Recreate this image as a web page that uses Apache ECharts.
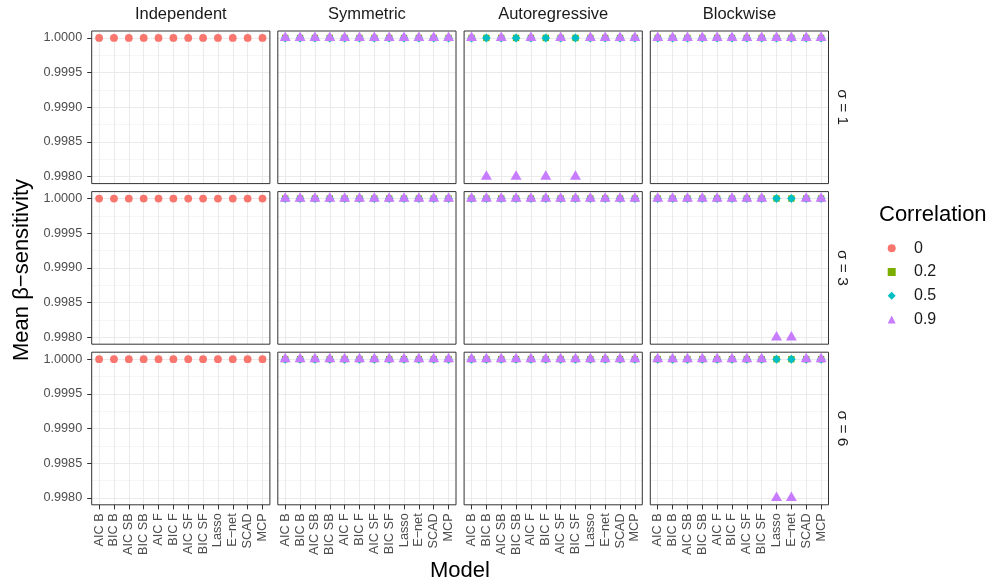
<!DOCTYPE html>
<html>
<head>
<meta charset="utf-8">
<script src="https://cdn.jsdelivr.net/npm/echarts@6/dist/echarts.min.js"></script>
<style>
html,body{margin:0;padding:0;background:#fff;}
#chart{width:992px;height:588px;}
</style>
</head>
<body>
<div id="chart"></div>
<script>
// ---------- data ----------
const models = ['AIC B','BIC B','AIC SB','BIC SB','AIC F','BIC F','AIC SF','BIC SF','Lasso','E\u2212net','SCAD','MCP'];
const structures = ['Independent','Symmetric','Autoregressive','Blockwise'];
const sigmaLabels = ['\u03c3 = 1','\u03c3 = 3','\u03c3 = 6'];
const correlations = ['0','0.2','0.5','0.9'];
const yTicks = [0.9980, 0.9985, 0.9990, 0.9995, 1.0000];

// rows: sigma = 1, 3, 6 ; columns: models
const independent_rho0 = [
  [1,1,1,1,1,1,1,1,1,1,1,1],
  [1,1,1,1,1,1,1,1,1,1,1,1],
  [1,1,1,1,1,1,1,1,1,1,1,1]
];
const symmetric_rho02 = [
  [1,1,1,1,1,1,1,1,1,1,1,1],
  [1,1,1,1,1,1,1,1,1,1,1,1],
  [1,1,1,1,1,1,1,1,1,1,1,1]
];
const symmetric_rho05 = [
  [1,1,1,1,1,1,1,1,1,1,1,1],
  [1,1,1,1,1,1,1,1,1,1,1,1],
  [1,1,1,1,1,1,1,1,1,1,1,1]
];
const symmetric_rho09 = [
  [1,1,1,1,1,1,1,1,1,1,1,1],
  [1,1,1,1,1,1,1,1,1,1,1,1],
  [1,1,1,1,1,1,1,1,1,1,1,1]
];
const autoreg_rho02 = [
  [1,1,1,1,1,1,1,1,1,1,1,1],
  [1,1,1,1,1,1,1,1,1,1,1,1],
  [1,1,1,1,1,1,1,1,1,1,1,1]
];
const autoreg_rho05 = [
  [1,1,1,1,1,1,1,1,1,1,1,1],
  [1,1,1,1,1,1,1,1,1,1,1,1],
  [1,1,1,1,1,1,1,1,1,1,1,1]
];
const autoreg_rho09 = [
  [1,0.998,1,0.998,1,0.998,1,0.998,1,1,1,1],
  [1,1,1,1,1,1,1,1,1,1,1,1],
  [1,1,1,1,1,1,1,1,1,1,1,1]
];
const block_rho02 = [
  [1,1,1,1,1,1,1,1,1,1,1,1],
  [1,1,1,1,1,1,1,1,1,1,1,1],
  [1,1,1,1,1,1,1,1,1,1,1,1]
];
const block_rho05 = [
  [1,1,1,1,1,1,1,1,1,1,1,1],
  [1,1,1,1,1,1,1,1,1,1,1,1],
  [1,1,1,1,1,1,1,1,1,1,1,1]
];
const block_rho09 = [
  [1,1,1,1,1,1,1,1,1,1,1,1],
  [1,1,1,1,1,1,1,1,0.998,0.998,1,1],
  [1,1,1,1,1,1,1,1,0.998,0.998,1,1]
];

// per column: list of [correlation label, data table]
const panelSeries = [
  [['0', independent_rho0]],
  [['0.2', symmetric_rho02], ['0.5', symmetric_rho05], ['0.9', symmetric_rho09]],
  [['0.2', autoreg_rho02], ['0.5', autoreg_rho05], ['0.9', autoreg_rho09]],
  [['0.2', block_rho02], ['0.5', block_rho05], ['0.9', block_rho09]]
];

// ---------- styles ----------
const FONT = 'Liberation Sans, Arial, Helvetica, sans-serif';
const styleByCorr = {
  '0':   {color:'#F8766D', symbol:'circle',   size:7.8,      offset:[0,0]},
  '0.2': {color:'#7CAE00', symbol:'rect',     size:6.4,      offset:[0,0]},
  '0.5': {color:'#00BFC4', symbol:'diamond',  size:[8.6,9],  offset:[0,0]},
  '0.9': {color:'#C77CFF', symbol:'triangle', size:[11,9.5], offset:[0,-1.6]}
};

const colLeft = [91.7, 277.8, 464.1, 650.3];
const rowTop = [31, 191.6, 352.2];
const panelW = 178.2, panelH = 152.6;

const grids = [], xAxes = [], yAxes = [], series = [], graphics = [];
let g = 0;
for (let r = 0; r < 3; r++) {
  for (let c = 0; c < 4; c++) {
    grids.push({
      left: colLeft[c], top: rowTop[r], width: panelW, height: panelH,
      show: true, borderColor: '#333333', borderWidth: 1,
      backgroundColor: 'transparent', z: 1
    });
    xAxes.push({
      gridIndex: g, type: 'category', data: models, boundaryGap: true, z: 0,
      axisLine: {show: false},
      axisTick: {show: r === 2, alignWithLabel: true, interval: 0, length: 4.5, lineStyle: {color: '#333333', width: 1}},
      axisLabel: {show: r === 2, rotate: 90, interval: 0, margin: 8.5, color: '#4D4D4D', fontSize: 12.7, fontFamily: FONT},
      splitLine: {show: true, alignWithLabel: true, interval: 0, lineStyle: {color: '#EBEBEB', width: 1.1}}
    });
    yAxes.push({
      gridIndex: g, type: 'value', min: 0.9979, max: 1.0001, z: 0,
      splitNumber: 5, minInterval: 0.0005, maxInterval: 0.0005,
      axisLine: {show: false},
      axisTick: {show: c === 0, length: 4.5, customValues: yTicks, lineStyle: {color: '#333333', width: 1}},
      axisLabel: {show: c === 0, customValues: yTicks, margin: 9.5, color: '#4D4D4D', fontSize: 12.7, fontFamily: FONT,
        formatter: function (v) {
          return Math.abs(v * 2000 - Math.round(v * 2000)) < 1e-6 ? v.toFixed(4) : '';
        }},
      splitLine: {show: true, lineStyle: {color: '#EBEBEB', width: 1.1}},
      minorTick: {show: false, splitNumber: 2},
      minorSplitLine: {show: true, lineStyle: {color: '#EFEFEF', width: 0.6}}
    });
    panelSeries[c].forEach(function (ps, k) {
      const st = styleByCorr[ps[0]];
      series.push({
        type: 'scatter', name: ps[0], xAxisIndex: g, yAxisIndex: g,
        data: ps[1][r], symbol: st.symbol, symbolSize: st.size, symbolOffset: st.offset,
        itemStyle: {color: st.color, opacity: 1}, z: 3 + k, silent: true
      });
    });
    g++;
  }
}

// strip labels
structures.forEach(function (s, c) {
  graphics.push({type: 'text', x: colLeft[c] + panelW / 2, y: 14,
    style: {text: s, fontSize: 16.5, fontFamily: FONT, fill: '#1A1A1A', textAlign: 'center', textVerticalAlign: 'middle'}});
});
sigmaLabels.forEach(function (s, r) {
  graphics.push({type: 'text', x: 842, y: rowTop[r] + panelH / 2, rotation: -Math.PI / 2,
    style: {text: s, fontSize: 15.5, fontFamily: FONT, fill: '#1A1A1A', textAlign: 'center', textVerticalAlign: 'middle'}});
});
// axis titles
graphics.push({type: 'text', x: 460, y: 571,
  style: {text: 'Model', fontSize: 22, fontFamily: FONT, fill: '#000', textAlign: 'center', textVerticalAlign: 'middle'}});
graphics.push({type: 'text', x: 21.5, y: 270, rotation: Math.PI / 2,
  style: {text: 'Mean \u03b2\u2212sensitivity', fontSize: 22, fontFamily: FONT, fill: '#000', textAlign: 'center', textVerticalAlign: 'middle'}});
// legend title
graphics.push({type: 'text', x: 879, y: 215,
  style: {text: 'Correlation', fontSize: 22, fontFamily: FONT, fill: '#000', textAlign: 'left', textVerticalAlign: 'middle'}});

const chart = echarts.init(document.getElementById('chart'), null, {renderer: 'canvas'});
chart.setOption({
  backgroundColor: '#ffffff',
  animation: false,
  textStyle: {fontFamily: FONT},
  grid: grids,
  xAxis: xAxes,
  yAxis: yAxes,
  series: series,
  legend: {
    orient: 'vertical', left: 887.7, top: 238.3, padding: 0,
    itemWidth: 8, itemHeight: 8, itemGap: 3.7, selectedMode: false, symbolKeepAspect: true,
    data: correlations.map(function (c) { return {name: c, icon: styleByCorr[c].symbol}; }),
    textStyle: {fontSize: 16, color: '#1A1A1A', fontFamily: FONT, lineHeight: 20, padding: [0, 0, 0, 13.3]}
  },
  graphic: graphics
});
</script>
</body>
</html>
